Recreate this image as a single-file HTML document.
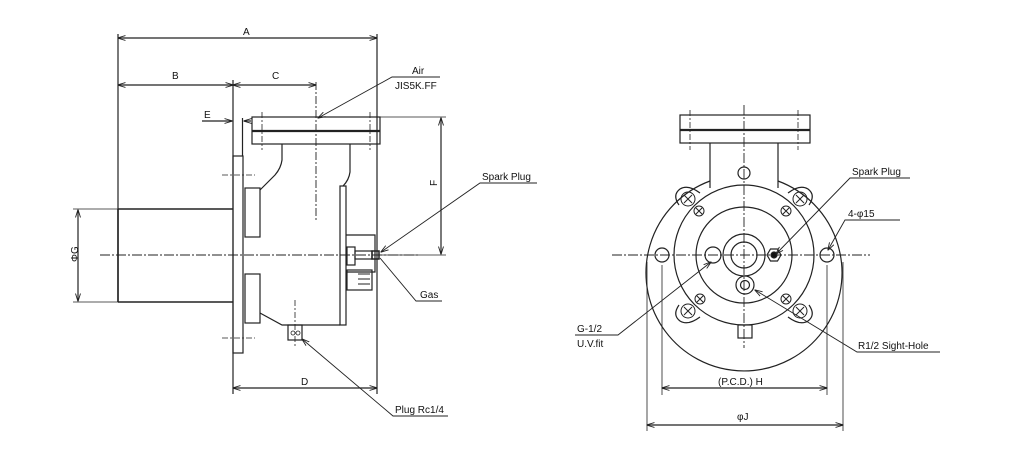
<!DOCTYPE html>
<html><head><meta charset="utf-8"><style>
html,body{margin:0;padding:0;background:#fff;}
svg{display:block;}
text{font-family:"Liberation Sans",sans-serif;font-size:10px;fill:#111;}
</style></head><body>
<svg width="1023" height="454" viewBox="0 0 1023 454" xmlns="http://www.w3.org/2000/svg">
<defs>
<marker id="ar" markerWidth="8" markerHeight="6" refX="7.5" refY="3" orient="auto-start-reverse" markerUnits="userSpaceOnUse"><path d="M0,0.5 L8,3 L0,5.5" fill="none" stroke="#222" stroke-width="0.9"/></marker>
</defs>
<g stroke="#222" stroke-width="1.2" fill="none">
<!-- ===== LEFT VIEW ===== -->
<line x1="118" y1="34" x2="118" y2="302"/>
<line x1="233" y1="80" x2="233" y2="394"/>
<line x1="377" y1="34" x2="377" y2="394"/>
<line x1="316" y1="82" x2="316" y2="220" stroke-dasharray="8,2,2,2" stroke-width="0.9"/>
<line x1="118" y1="38" x2="377" y2="38" marker-start="url(#ar)" marker-end="url(#ar)"/>
<line x1="118" y1="85" x2="233" y2="85" marker-start="url(#ar)" marker-end="url(#ar)"/>
<line x1="233" y1="85" x2="316" y2="85" marker-start="url(#ar)" marker-end="url(#ar)"/>
<line x1="233" y1="388" x2="377" y2="388" marker-start="url(#ar)" marker-end="url(#ar)"/>
<line x1="202" y1="121" x2="232" y2="121" marker-end="url(#ar)"/>
<line x1="251" y1="121" x2="244" y2="121" marker-end="url(#ar)"/>
<line x1="73" y1="209" x2="233" y2="209" stroke-width="0.8"/>
<line x1="73" y1="302" x2="118" y2="302" stroke-width="0.8"/>
<line x1="78" y1="210" x2="78" y2="301" marker-start="url(#ar)" marker-end="url(#ar)"/>
<line x1="380" y1="117" x2="446" y2="117" stroke-width="0.8"/>
<line x1="380" y1="255" x2="446" y2="255" stroke-width="0.8"/>
<line x1="441" y1="118" x2="441" y2="254" marker-start="url(#ar)" marker-end="url(#ar)"/>
<path d="M118,209 H233 M118,302 H233" stroke-width="1.5"/>
<line x1="118" y1="209" x2="118" y2="302" stroke-width="1.6"/>
<line x1="242.5" y1="118" x2="242.5" y2="156"/>
<rect x="233" y="156" width="10" height="197"/>
<rect x="245" y="188" width="15" height="49"/>
<rect x="245" y="274" width="15" height="49"/>
<rect x="252" y="117" width="128" height="27"/>
<line x1="252" y1="131" x2="380" y2="131" stroke-width="2.2"/>
<line x1="262" y1="112" x2="262" y2="150" stroke-dasharray="6,2,2,2" stroke-width="0.8"/>
<line x1="370" y1="112" x2="370" y2="150" stroke-dasharray="6,2,2,2" stroke-width="0.8"/>
<path d="M282,144 V160 Q281,168 275,175 L260,190"/>
<path d="M350,144 V172 Q349,180 343,186"/>
<rect x="340" y="186" width="6" height="139"/>
<path d="M260,313 L282,325 H340"/>
<rect x="288" y="325" width="14" height="15"/>
<circle cx="293" cy="333" r="2" stroke-width="0.8"/><circle cx="298" cy="333" r="2" stroke-width="0.8"/>
<line x1="295" y1="300" x2="295" y2="348" stroke-dasharray="6,2,2,2" stroke-width="0.8"/>
<line x1="222" y1="175" x2="255" y2="175" stroke-dasharray="6,2,2,2" stroke-width="0.8"/>
<line x1="222" y1="338" x2="255" y2="338" stroke-dasharray="6,2,2,2" stroke-width="0.8"/>
<path d="M346,235 H375 V272 H346"/>
<rect x="347" y="247" width="8" height="18"/>
<rect x="355" y="251" width="17" height="8"/>
<rect x="372" y="251" width="7" height="8" stroke-width="1.5"/>
<rect x="347" y="270" width="25" height="20"/>
<path d="M358,274 H370 M358,279 H370 M358,284 H370" stroke-width="0.9"/>
<line x1="100" y1="255" x2="420" y2="255" stroke-dasharray="10,2,2,2" stroke-width="0.9"/>
<path d="M440,77 H392 L318,118" marker-end="url(#ar)" stroke-width="0.9"/>
<path d="M537,183 H480 L381,252" marker-end="url(#ar)" stroke-width="0.9"/>
<path d="M442,301 H416 L380,258" stroke-width="0.9"/>
<path d="M448,416 H393 L302,339" marker-end="url(#ar)" stroke-width="0.9"/>

<!-- ===== RIGHT VIEW ===== -->
<line x1="612" y1="255" x2="870" y2="255" stroke-dasharray="10,2,2,2" stroke-width="0.9"/>
<line x1="744" y1="105" x2="744" y2="348" stroke-dasharray="10,2,2,2" stroke-width="0.9"/>
<rect x="680" y="115" width="130" height="28"/>
<line x1="680" y1="130" x2="810" y2="130" stroke-width="2.2"/>
<line x1="690" y1="110" x2="690" y2="150" stroke-dasharray="6,2,2,2" stroke-width="0.8"/>
<line x1="798" y1="110" x2="798" y2="150" stroke-dasharray="6,2,2,2" stroke-width="0.8"/>
<path d="M710,143 V188 M778,143 V188"/>
<path d="M710,181 A98,98 0 1 0 778,181"/>
<circle cx="744" cy="255" r="70"/>
<circle cx="744" cy="255" r="48"/>
<circle cx="744" cy="255" r="21"/>
<circle cx="744" cy="255" r="13"/>
<circle cx="744" cy="173" r="6"/>
<circle cx="662" cy="255" r="7"/>
<circle cx="827" cy="255" r="7"/>
<circle cx="713" cy="255" r="8"/>
<polygon points="781,255 777.5,261 770.5,261 767,255 770.5,249 777.5,249"/>
<circle cx="774" cy="255" r="3" fill="#111"/>
<circle cx="745" cy="285" r="9"/>
<circle cx="745" cy="285" r="4.5"/>
<path d="M679,205 Q672,195 680,189 Q688,184 700,193"/>
<path d="M809,205 Q816,195 808,189 Q800,184 788,193"/>
<path d="M679,305 Q672,315 680,321 Q688,326 700,317"/>
<path d="M809,305 Q816,315 808,321 Q800,326 788,317"/>
<g stroke-width="1">
<circle cx="688" cy="199" r="7"/><path d="M684,195 L692,203 M692,195 L684,203"/>
<circle cx="800" cy="199" r="7"/><path d="M796,195 L804,203 M804,195 L796,203"/>
<circle cx="688" cy="311" r="7"/><path d="M684,307 L692,315 M692,307 L684,315"/>
<circle cx="800" cy="311" r="7"/><path d="M796,307 L804,315 M804,307 L796,315"/>
<circle cx="699" cy="211" r="5"/><path d="M696,208 L702,214 M702,208 L696,214"/>
<circle cx="786" cy="211" r="5"/><path d="M783,208 L789,214 M789,208 L783,214"/>
<circle cx="700" cy="299" r="5"/><path d="M697,296 L703,302 M703,296 L697,302"/>
<circle cx="786" cy="299" r="5"/><path d="M783,296 L789,302 M789,296 L783,302"/>
</g>
<rect x="738" y="325" width="14" height="13"/>
<line x1="662" y1="265" x2="662" y2="395" stroke-width="0.8"/>
<line x1="827" y1="265" x2="827" y2="395" stroke-width="0.8"/>
<line x1="647" y1="262" x2="647" y2="431" stroke-width="0.8"/>
<line x1="843" y1="262" x2="843" y2="431" stroke-width="0.8"/>
<line x1="662" y1="388" x2="827" y2="388" marker-start="url(#ar)" marker-end="url(#ar)"/>
<line x1="647" y1="425" x2="843" y2="425" marker-start="url(#ar)" marker-end="url(#ar)"/>
<path d="M910,178 H850 L776,254" marker-end="url(#ar)" stroke-width="0.9"/>
<path d="M900,220 H845 L828,250" marker-end="url(#ar)" stroke-width="0.9"/>
<path d="M575,335 H618 L711,262" marker-end="url(#ar)" stroke-width="0.9"/>
<path d="M940,352 H857 L755,290" marker-end="url(#ar)" stroke-width="0.9"/>
</g>
<text x="243" y="35">A</text>
<text x="172" y="79">B</text>
<text x="272" y="79">C</text>
<text x="204" y="118">E</text>
<text x="301" y="385">D</text>
<text x="433" y="190" transform="rotate(-90 433 186)">F</text>
<text x="74" y="266" transform="rotate(-90 74 262)">ΦG</text>
<text x="412" y="74" font-size="9">Air</text>
<text x="395" y="89" font-size="9">JIS5K.FF</text>
<text x="482" y="180" font-size="9">Spark Plug</text>
<text x="420" y="298" font-size="9">Gas</text>
<text x="395" y="413" font-size="9">Plug Rc1/4</text>
<text x="852" y="175" font-size="9">Spark Plug</text>
<text x="848" y="217" font-size="9">4-φ15</text>
<text x="577" y="332" font-size="9">G-1/2</text>
<text x="577" y="347" font-size="9">U.V.fit</text>
<text x="858" y="349" font-size="9">R1/2 Sight-Hole</text>
<text x="718" y="385" font-size="9">(P.C.D.) H</text>
<text x="737" y="420" font-size="9">φJ</text>
</svg>
</body></html>
